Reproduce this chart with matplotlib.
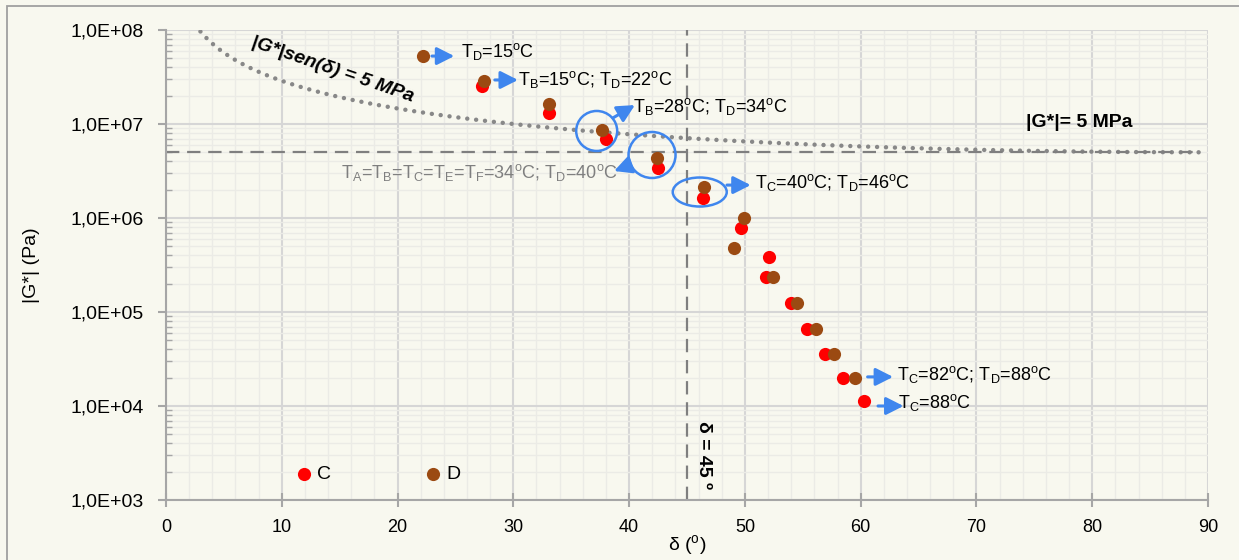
import numpy as np
import matplotlib
matplotlib.use('Agg')
import matplotlib.pyplot as plt
from matplotlib.patches import Ellipse, Rectangle
from matplotlib.transforms import ScaledTranslation
from matplotlib.ticker import FuncFormatter, LogLocator, MultipleLocator, NullFormatter

plt.rcParams['font.family'] = ['Liberation Sans', 'DejaVu Sans']
plt.rcParams['mathtext.fontset'] = 'custom'
plt.rcParams['mathtext.rm'] = 'Liberation Sans'
plt.rcParams['mathtext.it'] = 'Liberation Sans:italic'
plt.rcParams['mathtext.bf'] = 'Liberation Sans:bold'

# dados: ângulo de fase (graus) e |G*| (Pa)
delta_c = [27.3, 33.1, 38.0, 42.5, 46.4, 49.7, 52.1, 51.8, 54.0, 55.4, 56.9, 58.5, 60.3]
g_c = [2.55e7, 1.31e7, 6.9e6, 3.4e6, 1.63e6, 7.8e5, 3.85e5, 2.36e5, 1.25e5, 6.6e4, 3.57e4, 1.99e4, 1.13e4]
delta_d = [22.2, 27.5, 33.1, 37.7, 42.4, 46.5, 49.9, 49.05, 52.4, 54.5, 56.1, 57.7, 59.5]
g_d = [5.3e7, 2.87e7, 1.63e7, 8.6e6, 4.35e6, 2.14e6, 1.0e6, 4.8e5, 2.36e5, 1.25e5, 6.6e4, 3.6e4, 2.0e4]

G_LIMIT = 5e6      # 5 MPa
DELTA_REF = 45     # graus

bg = '#F8F8EF'
axis_gray = '#A6A6A6'
ref_gray = '#7F7F7F'
blue = '#3F86EE'
red = '#FF0000'
brown = '#9B4A12'

fig = plt.figure(figsize=(12.39, 5.6), dpi=100, facecolor=bg)
ax = fig.add_axes([166/1239, 60/560, 1042/1239, 470/560])
ax.set_facecolor(bg)

# borda da figura (só topo e esquerda visíveis)
fig.add_artist(Rectangle((7/1239, -0.05), 1.2, 1.05 - 6/560, transform=fig.transFigure,
                         fill=False, edgecolor='#A0A0A0', lw=1.3, clip_on=False))

ax.set_yscale('log')
ax.set_xlim(0, 90)
ax.set_ylim(1e3, 1e8)

ax.xaxis.set_major_locator(MultipleLocator(10))
ax.xaxis.set_minor_locator(MultipleLocator(2))
ax.yaxis.set_major_locator(LogLocator(base=10))
ax.yaxis.set_minor_locator(LogLocator(base=10, subs=np.arange(2, 10)))
ax.yaxis.set_minor_formatter(NullFormatter())
ax.yaxis.set_major_formatter(FuncFormatter(lambda v, p: '1,0E+%02d' % round(np.log10(v))))

ax.grid(which='major', color='#D6D6D6', lw=1.5, zorder=0)
ax.grid(which='minor', color='#EBEBE6', lw=1.0, zorder=0)
ax.set_axisbelow(True)

for s in ['top', 'right']:
    ax.spines[s].set_visible(False)
for s in ['left', 'bottom']:
    ax.spines[s].set_color(axis_gray)
    ax.spines[s].set_linewidth(1.5)

ax.tick_params(axis='y', which='major', direction='out', length=6, width=1.5,
               color=axis_gray, labelsize=14, pad=10)
ax.tick_params(axis='y', which='minor', direction='in', length=4, width=1.0, color=axis_gray)
ax.tick_params(axis='x', which='major', direction='inout', length=10, width=1.5,
               color=axis_gray, labelsize=13, pad=9)
ax.tick_params(axis='x', which='minor', length=0)

# linhas de referência
delta_curve = np.linspace(2.5, 89.3, 400)
ax.plot(delta_curve, G_LIMIT / np.sin(np.radians(delta_curve)), color='#888888', lw=3.2,
        ls=(0, (0.01, 2.0)), dash_capstyle='round', zorder=2)
ax.axhline(G_LIMIT, xmax=0.989, color=ref_gray, lw=1.6, ls=(0, (6, 3.5)), zorder=2)
ax.axvline(DELTA_REF, color=ref_gray, lw=1.6, ls=(0, (6, 3.5)), zorder=2)

hc = ax.scatter(delta_c, g_c, s=90, color=red, zorder=4, label='C', linewidths=0)
hd = ax.scatter(delta_d, g_d, s=90, color=brown, zorder=5, label='D', linewidths=0)

ax.legend(handles=[hc, hd], loc='center left', bbox_to_anchor=(0.1257, 0.055), ncol=2,
          frameon=False, fontsize=14, handlelength=0.7, handletextpad=0.32,
          columnspacing=4.9, borderpad=0, borderaxespad=0, scatterpoints=1)

# textos
ax.text(14.4, 3.75e7, '|G*|sen(δ) = 5 MPa', fontsize=14, fontweight='bold', style='italic',
        rotation=-19, ha='center', va='center')
ax.text(78.9, 1.03e7, '|G*|= 5 MPa', fontsize=14, fontweight='bold', ha='center', va='center')
ax.text(46.4, 3.0e3, 'δ = 45 º', fontsize=14, fontweight='bold', rotation=-90,
        ha='center', va='center')

arrow_kw = dict(arrowstyle='-|>,head_length=0.75,head_width=0.38', color=blue, lw=2.2,
                shrinkA=0, shrinkB=0, mutation_scale=14)
arrows = [((22.97, 5.28e7), (24.9, 5.28e7)),
          ((28.4, 2.94e7), (30.4, 2.94e7)),
          ((38.6, 1.16e7), (40.5, 1.59e7)),
          ((40.1, 3.66e6), (38.7, 3.16e6)),
          ((48.45, 2.24e6), (50.5, 2.24e6)),
          ((60.6, 2.04e4), (62.8, 2.04e4)),
          ((61.5, 1.0e4), (63.7, 1.0e4))]
for tail, head in arrows:
    ax.annotate('', xy=head, xytext=tail, arrowprops=arrow_kw, zorder=6)

labels = [(25.5, 5.16e7, r'T$_\mathrm{D}$=15$^\mathrm{o}$C', 'left', 'black'),
          (30.4, 2.6e7, r'T$_\mathrm{B}$=15$^\mathrm{o}$C; T$_\mathrm{D}$=22$^\mathrm{o}$C', 'left', 'black'),
          (40.3, 1.34e7, r'T$_\mathrm{B}$=28$^\mathrm{o}$C; T$_\mathrm{D}$=34$^\mathrm{o}$C', 'left', 'black'),
          (39.0, 2.67e6, r'T$_\mathrm{A}$=T$_\mathrm{B}$=T$_\mathrm{C}$=T$_\mathrm{E}$=T$_\mathrm{F}$=34$^\mathrm{o}$C; T$_\mathrm{D}$=40$^\mathrm{o}$C', 'right', ref_gray),
          (50.9, 2.08e6, r'T$_\mathrm{C}$=40$^\mathrm{o}$C; T$_\mathrm{D}$=46$^\mathrm{o}$C', 'left', 'black'),
          (63.1, 1.89e4, r'T$_\mathrm{C}$=82$^\mathrm{o}$C; T$_\mathrm{D}$=88$^\mathrm{o}$C', 'left', 'black'),
          (63.2, 9.5e3, r'T$_\mathrm{C}$=88$^\mathrm{o}$C', 'left', 'black')]
for x, y, txt, ha, col in labels:
    ax.text(x, y, txt, fontsize=13, ha=ha, va='baseline', color=col, zorder=7)

# círculos de destaque (centro em dados, tamanho em polegadas)
for cx, cy, w, h in [(37.2, 8.43e6, 0.41, 0.40), (41.98, 4.68e6, 0.47, 0.46), (46.1, 1.89e6, 0.54, 0.29)]:
    tr = fig.dpi_scale_trans + ScaledTranslation(cx, cy, ax.transData)
    ax.add_patch(Ellipse((0, 0), w, h, transform=tr, fill=False, edgecolor=blue, lw=1.8, zorder=6))

ax.set_ylabel('|G*| (Pa)', fontsize=14)
ax.yaxis.set_label_coords(-0.121, 0.5)
ax.set_xlabel(r'δ ($^\mathrm{o}$)', fontsize=14)
ax.xaxis.set_label_coords(0.5, -0.07)

fig.savefig('out.png', dpi=100, facecolor=bg)
